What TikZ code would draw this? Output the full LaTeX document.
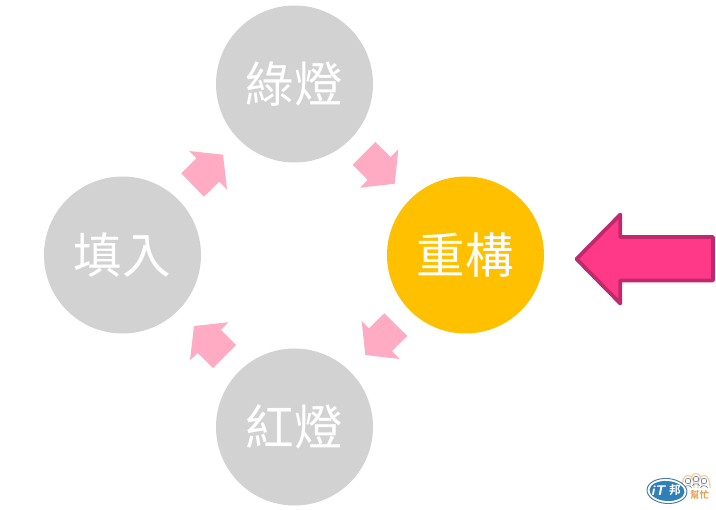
\documentclass[tikz,border=0pt]{standalone}
\usepackage{fontspec}
\newfontfamily\cjk{Noto Sans CJK TC}
\newfontfamily\cjkheavy{Noto Sans CJK TC Bold}
\usetikzlibrary{calc}
\definecolor{lampgray}{HTML}{D2D2D2}
\definecolor{lampgold}{HTML}{FFC000}
\definecolor{flowpink}{HTML}{FFABC4}
\definecolor{markpink}{HTML}{FF3888}
\definecolor{markedge}{HTML}{C0296C}
\definecolor{logoblue}{HTML}{2F7FB8}
\definecolor{logonavy}{HTML}{4A76A8}
\definecolor{logoorange}{HTML}{EE9A45}
\definecolor{logopeach}{HTML}{F8CFA0}
\tikzset{
  stage/.style={circle,minimum size=4.71cm,inner sep=0pt,text=white,font=\cjk\fontsize{41.4}{41.4}\selectfont},
  flow/.style={fill=flowpink},
  person/.style={draw=logonavy,line width=.5pt,fill=white}
}

\begin{document}
\begin{tikzpicture}[x=.03cm,y=-.03cm]
\useasboundingbox (0,0) rectangle (716,510);
\node[stage,fill=lampgray] (green) at (294.5,84) {綠燈};
\node[stage,fill=lampgray] (fill) at (122.5,255) {填入};
\node[stage,fill=lampgold] (refactor) at (465.5,255) {重構};
\node[stage,fill=lampgray] (red) at (294.5,427) {紅燈};
% small arrows round the cycle
\fill[flow] (189,151) -- (223,154.7) -- (227,189.3) -- (219.3,181.7) -- (204,196.7) -- (181.3,173.3) -- (196.3,158.3) -- cycle;
\fill[flow] (375.3,142) -- (390.7,157) -- (398.3,149.3) -- (394.7,183.7) -- (360,187.7) -- (367.7,180) -- (352.7,164.7) -- cycle;
\fill[flow] (361.7,321) -- (369,328.3) -- (384.3,313.3) -- (407.3,336) -- (392,351) -- (399.7,359) -- (365.3,355) -- cycle;
\fill[flow] (228.3,322.3) -- (194,326) -- (190,360.3) -- (197.7,353) -- (213,368) -- (236,345) -- (221,330) -- cycle;
% big arrow
\draw[fill=markpink,draw=markedge,line width=3.2pt,line join=round] (576.5,259) -- (620.3,214.5) -- (620.3,237) -- (713,237) -- (713,280.5) -- (620.3,280.5) -- (620.3,303.5) -- cycle;
% logo
\foreach \x/\y in {688/481,696/479,704/481}{
  \draw[logopeach,line width=1.1pt] (\x-6,\y+7) .. controls (\x-6,\y-1) and (\x-4,\y-5.5) .. (\x,\y-5.5) .. controls (\x+4,\y-5.5) and (\x+6,\y-1) .. (\x+6,\y+7);
}
\foreach \x/\y in {688/481,696/479,704/481}{
  \draw[person] (\x,\y) circle (2.8);
  \draw[logonavy,line width=.5pt] (\x-3.5,\y+7) .. controls (\x-3.5,\y+4) and (\x+3.5,\y+4) .. (\x+3.5,\y+7);
}
\draw[fill=white,draw=logonavy,line width=.8pt,rotate around={-4:(667,491)}] (667,491) ellipse (20 and 12.5);
\fill[logoblue,rotate around={-4:(667,491)}] (667,491) ellipse (17.5 and 10);
\node[text=white,font=\bfseries\itshape\sffamily\fontsize{12}{12}\selectfont,inner sep=0pt] (itlogo) at (658,491) {iT};
\node[text=white,font=\cjkheavy\fontsize{10}{10}\selectfont,inner sep=0pt] (banglogo) at (675,490) {邦};
\node[text=logoorange,font=\cjkheavy\fontsize{8}{8}\selectfont,inner sep=0pt] (helplogo) at (699.5,494.5) {幫忙};
\end{tikzpicture}
\end{document}
